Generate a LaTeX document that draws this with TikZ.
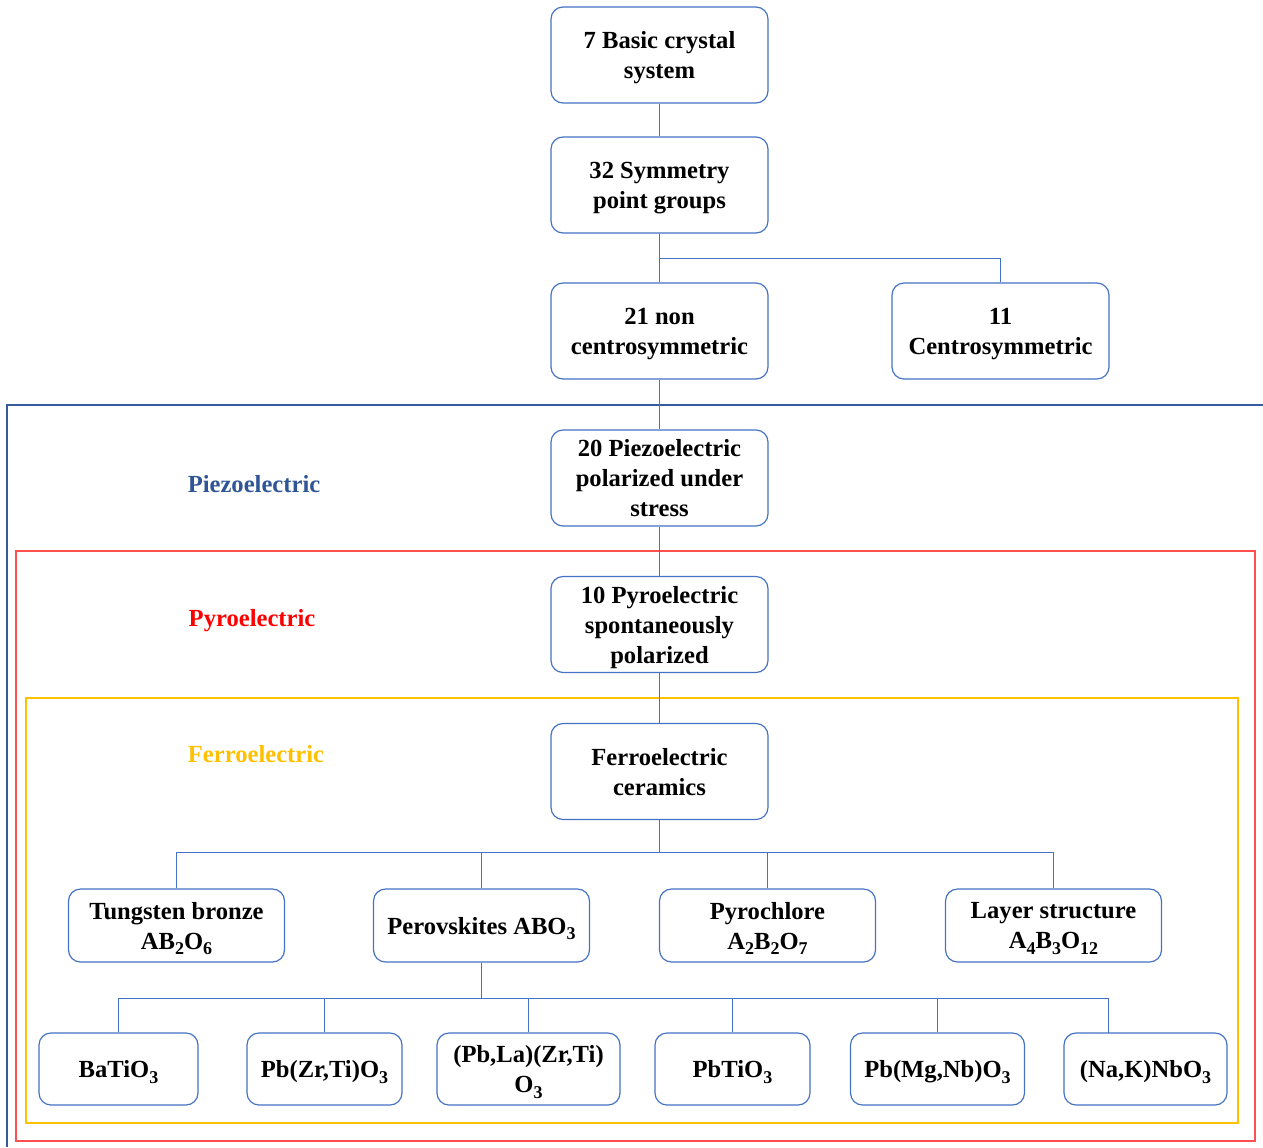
\documentclass[tikz,border=0pt]{standalone}
\usepackage{fontspec}
\setmainfont{Liberation Serif}
\usetikzlibrary{calc}
\definecolor{boxblue}{HTML}{4472C4}
\definecolor{piezoblue}{HTML}{2F5597}
\definecolor{framered}{HTML}{FF4F4F}
\definecolor{ferrogold}{HTML}{FFC000}
\newcommand{\sub}[1]{\raisebox{-0.5ex}{\fontsize{9}{9}\selectfont #1}}

\begin{document}
\begin{tikzpicture}[x=0.5pt,y=-0.5pt,
	every node/.style={font=\fontsize{12.3}{15}\selectfont\bfseries},
	box/.style={draw=boxblue,line width=0.6pt,rounded corners=6pt,align=center,minimum width=108.5pt,minimum height=48pt,inner sep=2pt,text depth=-1.2pt},
	rowbox/.style={box,minimum width=108pt,minimum height=36.5pt},
	leafbox/.style={box,minimum height=36pt},
	link/.style={draw=boxblue,line width=0.6pt},
	frame/.style={line width=0.9pt}]
	\useasboundingbox (0,0) rectangle (1263,1147);
	
	% nested frames
	\draw[frame,draw=boxblue!80!black] (1263,405)--(7,405)--(7,1147);
	\draw[frame,framered] (16,551) rectangle (1255,1141);
	\draw[frame,ferrogold] (26,698) rectangle (1238,1123);
	
	\node[text=piezoblue] (piezo) at (254,484) {Piezoelectric};
	\node[text=red] (pyro) at (252,621) {Pyroelectric};
	\node[text=ferrogold] (ferro) at (256,754) {Ferroelectric};
	
	% main chain
	\node[box] (basic) at (659.5,55) {7 Basic crystal\\system};
	\node[box] (sym) at (659.5,185) {32 Symmetry\\point groups};
	\node[box] (noncen) at (659.5,331) {21 non\\centrosymmetric};
	\node[box] (cen) at (1000.5,331) {11\\Centrosymmetric};
	\node[box] (piezobox) at (659.5,478) {20 Piezoelectric\\polarized under\\stress};
	\node[box] (pyrobox) at (659.5,624.5) {10 Pyroelectric\\spontaneously\\polarized};
	\node[box] (ceramics) at (659.5,771.5) {Ferroelectric\\ceramics};
	
	% structures
	\node[rowbox] (tung) at (176.5,925.5) {Tungsten bronze\\AB\sub{2}O\sub{6}};
	\node[rowbox] (perov) at (481.5,925.5) {Perovskites ABO\sub{3}};
	\node[rowbox] (pyroch) at (767.5,925.5) {Pyrochlore\\A\sub{2}B\sub{2}O\sub{7}};
	\node[rowbox] (layer) at (1053.5,925.5) {Layer structure\\A\sub{4}B\sub{3}O\sub{12}};
	
	% perovskite family
	\node[leafbox,minimum width=79.5pt] (bto) at (118.5,1069) {BaTiO\sub{3}};
	\node[leafbox,minimum width=77.5pt] (pzt) at (324.5,1069) {Pb(Zr,Ti)O\sub{3}};
	\node[leafbox,minimum width=91.5pt] (plzt) at (528.5,1069) {(Pb,La)(Zr,Ti)\\O\sub{3}};
	\node[leafbox,minimum width=77.5pt] (pto) at (732.5,1069) {PbTiO\sub{3}};
	\node[leafbox,minimum width=87pt] (pmn) at (937.5,1069) {Pb(Mg,Nb)O\sub{3}};
	\node[leafbox,minimum width=81.5pt] (knn) at (1145.5,1069) {(Na,K)NbO\sub{3}};
	
	\coordinate (split) at (659.5,258.5);
	\coordinate (bus1) at (659.5,852.5);
	\coordinate (bus2) at (481.5,998.5);
	\coordinate (knntop) at (1108.5,1033);
	
	\draw[link] (basic)--(sym);
	\draw[link] (sym)--(noncen);
	\draw[link] (split)-|(cen);
	\draw[link] (noncen)--(piezobox);
	\draw[link] (piezobox)--(pyrobox);
	\draw[link] (pyrobox)--(ceramics);
	
	\draw[link] (ceramics)--(bus1);
	\draw[link] (tung)|-(bus1)-|(layer);
	\foreach \n in {perov,pyroch}
		\draw[link] (\n)--(\n|-bus1);
	
	\draw[link] (perov)--(bus2);
	\draw[link] (bto)|-(bus2)-|(knntop);
	\foreach \n in {pzt,plzt,pto,pmn}
		\draw[link] (\n)--(\n|-bus2);
\end{tikzpicture}
\end{document}
